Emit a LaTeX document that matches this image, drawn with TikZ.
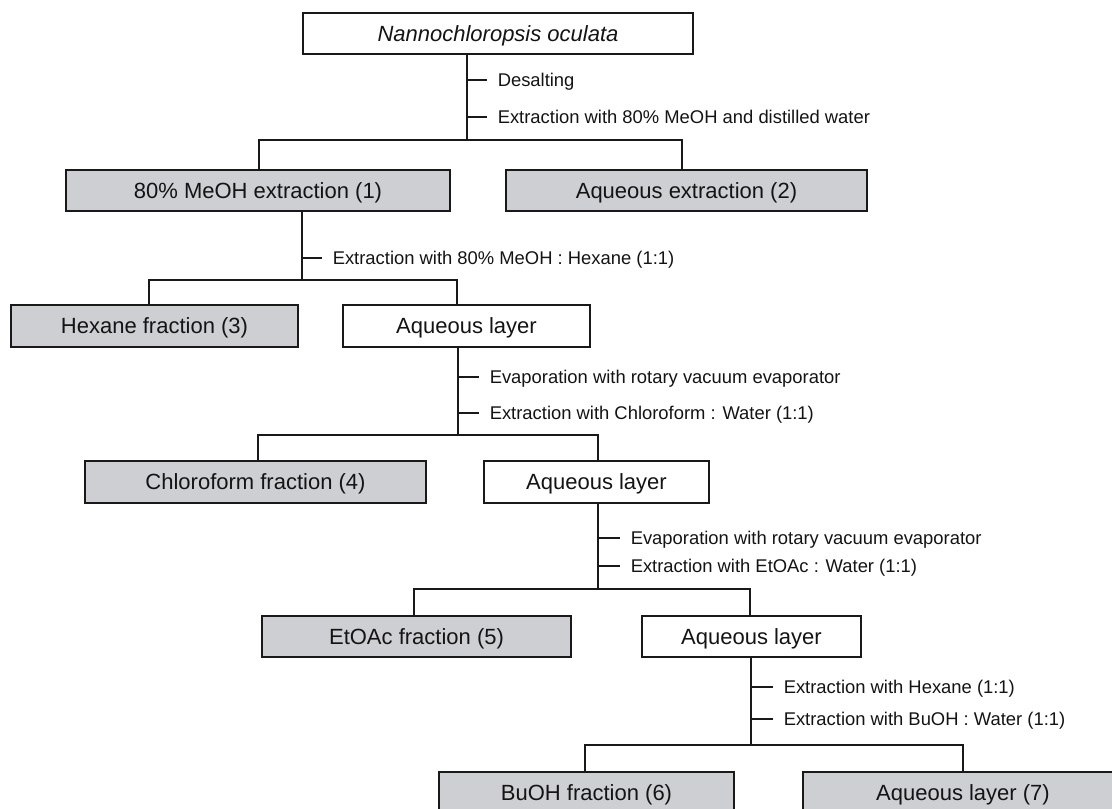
\documentclass[tikz,border=0pt]{standalone}
\usepackage{fontspec}
\setmainfont{Liberation Sans}
\definecolor{boxgray}{RGB}{206,207,211}
\definecolor{linec}{RGB}{25,25,25}
\definecolor{textc}{RGB}{20,20,20}
\begin{document}
\begin{tikzpicture}[x=1pt,y=-1pt,
  box/.style={draw=linec, line width=1.5pt, rectangle, inner sep=0pt,
    minimum height=41pt, text height=15.8pt, text depth=0pt, text=textc,
    font=\fontsize{22}{26}\selectfont},
  gbox/.style={box, fill=boxgray},
  wbox/.style={box, fill=white},
  conn/.style={draw=linec, line width=1.5pt},
  lab/.style={anchor=base west, inner sep=0pt, xshift=10pt, yshift=-6.6pt,
    text=textc, font=\fontsize{18.4}{22}\selectfont}]
\clip (0,0) rectangle (1112,809);
\fill[white] (0,0) rectangle (1112,809);

% boxes
\node[wbox, minimum width=390pt] (top)  at (498,33.5)  {\itshape Nannochloropsis oculata};
\node[gbox, minimum width=384pt] (box1) at (258,190.5) {80\% MeOH extraction (1)};
\node[gbox, minimum width=361pt] (box2) at (686.5,190.5) {Aqueous extraction (2)};
\node[gbox, minimum width=287pt, minimum height=42pt] (hex) at (154.5,326) {Hexane fraction (3)};
\node[wbox, minimum width=247pt, minimum height=42pt] (aq1) at (466.5,326) {Aqueous layer};
\node[gbox, minimum width=341pt, minimum height=42pt] (chl) at (255.5,482) {Chloroform fraction (4)};
\node[wbox, minimum width=225pt, minimum height=42pt] (aq2) at (596.5,482) {Aqueous layer};
\node[gbox, minimum width=309pt] (eto) at (416.5,636.5) {EtOAc fraction (5)};
\node[wbox, minimum width=219pt] (aq3) at (751.5,636.5) {Aqueous layer};
\node[gbox, minimum width=295pt] (buoh) at (586.5,792.5) {BuOH fraction (6)};
\node[gbox, minimum width=320pt] (aq7) at (963,792.5) {Aqueous layer (7)};

% level 1
\coordinate (j1) at (467,140);
\coordinate (l1) at (259,140);
\coordinate (r1) at (682,140);
\draw[conn] (top.south -| j1) -- (j1);
\draw[conn] (l1 |- box1.north) -- (l1) -- (r1) -- (r1 |- box2.north);
\coordinate (t1a) at (467,80);
\coordinate (t1b) at (467,117);
\draw[conn] (t1a) -- ++(20,0) node[lab] (lab1a) {Desalting};
\draw[conn] (t1b) -- ++(20,0) node[lab] (lab1b) {Extraction with 80\% MeOH and distilled water};

% level 2
\coordinate (j2) at (302,280);
\coordinate (l2) at (149,280);
\coordinate (r2) at (457,280);
\draw[conn] (box1.south -| j2) -- (j2);
\draw[conn] (l2 |- hex.north) -- (l2) -- (r2) -- (r2 |- aq1.north);
\coordinate (t2a) at (302,258);
\draw[conn] (t2a) -- ++(20,0) node[lab] (lab2a) {Extraction with 80\% MeOH : Hexane (1:1)};

% level 3
\coordinate (j3) at (458,435);
\coordinate (l3) at (258,435);
\coordinate (r3) at (598,435);
\draw[conn] (aq1.south -| j3) -- (j3);
\draw[conn] (l3 |- chl.north) -- (l3) -- (r3) -- (r3 |- aq2.north);
\coordinate (t3a) at (458,377);
\coordinate (t3b) at (458,413);
\draw[conn] (t3a) -- ++(21,0) node[lab] (lab3a) {Evaporation with rotary vacuum evaporator};
\draw[conn] (t3b) -- ++(21,0) node[lab] (lab3b) {Extraction with Chloroform : Water (1:1)};

% level 4
\coordinate (j4) at (598,589);
\coordinate (l4) at (414,589);
\coordinate (r4) at (750,589);
\draw[conn] (aq2.south -| j4) -- (j4);
\draw[conn] (l4 |- eto.north) -- (l4) -- (r4) -- (r4 |- aq3.north);
\coordinate (t4a) at (598,538);
\coordinate (t4b) at (598,566);
\draw[conn] (t4a) -- ++(22,0) node[lab] (lab4a) {Evaporation with rotary vacuum evaporator};
\draw[conn] (t4b) -- ++(22,0) node[lab] (lab4b) {Extraction with EtOAc : Water (1:1)};

% level 5
\coordinate (j5) at (751,745);
\coordinate (l5) at (585,745);
\coordinate (r5) at (963,745);
\draw[conn] (aq3.south -| j5) -- (j5);
\draw[conn] (l5 |- buoh.north) -- (l5) -- (r5) -- (r5 |- aq7.north);
\coordinate (t5a) at (751,687);
\coordinate (t5b) at (751,719);
\draw[conn] (t5a) -- ++(22,0) node[lab] (lab5a) {Extraction with Hexane (1:1)};
\draw[conn] (t5b) -- ++(22,0) node[lab] (lab5b) {Extraction with BuOH : Water (1:1)};
\end{tikzpicture}
\end{document}
